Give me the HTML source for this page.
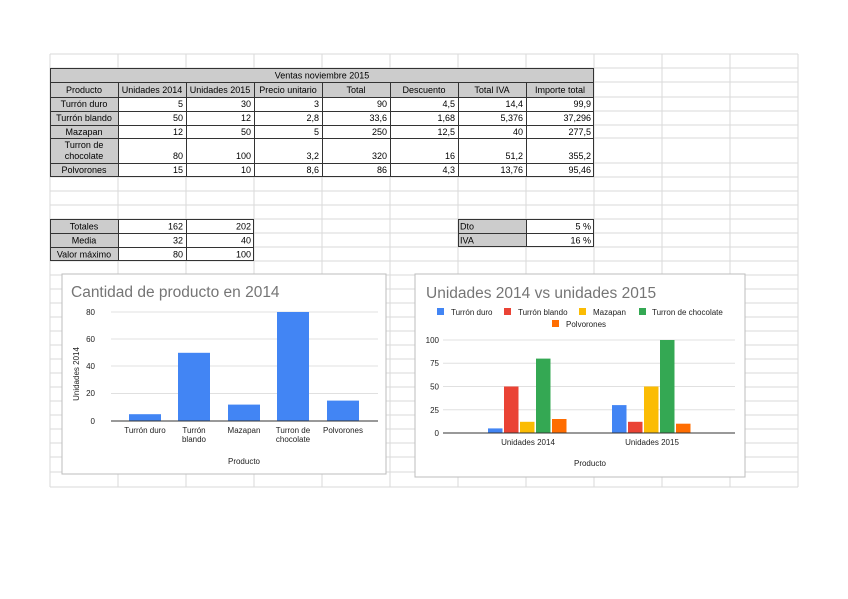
<!DOCTYPE html>
<html><head><meta charset="utf-8"><style>
html,body{margin:0;padding:0;background:#fff;}
svg{display:block;font-family:"Liberation Sans",Arial,sans-serif;}
.c{font-size:9px;fill:#000;}
</style></head><body>
<svg width="848" height="599" viewBox="0 0 848 599" xmlns="http://www.w3.org/2000/svg">
<!-- grid -->
<g stroke="#dadada" stroke-width="1">
<line x1="50" y1="54" x2="798" y2="54"/><line x1="50" y1="68" x2="798" y2="68"/><line x1="50" y1="82" x2="798" y2="82"/>
<line x1="50" y1="97" x2="798" y2="97"/><line x1="50" y1="111" x2="798" y2="111"/><line x1="50" y1="125" x2="798" y2="125"/>
<line x1="50" y1="138" x2="798" y2="138"/><line x1="50" y1="163" x2="798" y2="163"/><line x1="50" y1="177" x2="798" y2="177"/>
<line x1="50" y1="191" x2="798" y2="191"/><line x1="50" y1="205" x2="798" y2="205"/><line x1="50" y1="219" x2="798" y2="219"/>
<line x1="50" y1="233" x2="798" y2="233"/><line x1="50" y1="247" x2="798" y2="247"/><line x1="50" y1="261" x2="798" y2="261"/>
<line x1="50" y1="275" x2="798" y2="275"/><line x1="50" y1="289" x2="798" y2="289"/><line x1="50" y1="303" x2="798" y2="303"/>
<line x1="50" y1="317" x2="798" y2="317"/><line x1="50" y1="331" x2="798" y2="331"/><line x1="50" y1="345" x2="798" y2="345"/>
<line x1="50" y1="359" x2="798" y2="359"/><line x1="50" y1="373" x2="798" y2="373"/><line x1="50" y1="387" x2="798" y2="387"/>
<line x1="50" y1="401" x2="798" y2="401"/><line x1="50" y1="415" x2="798" y2="415"/><line x1="50" y1="429" x2="798" y2="429"/>
<line x1="50" y1="443" x2="798" y2="443"/><line x1="50" y1="457" x2="798" y2="457"/><line x1="50" y1="472" x2="798" y2="472"/>
<line x1="50" y1="487" x2="798" y2="487"/>
<line x1="50" y1="54" x2="50" y2="487"/><line x1="118" y1="54" x2="118" y2="487"/><line x1="186" y1="54" x2="186" y2="487"/>
<line x1="254" y1="54" x2="254" y2="487"/><line x1="322" y1="54" x2="322" y2="487"/><line x1="390" y1="54" x2="390" y2="487"/>
<line x1="458" y1="54" x2="458" y2="487"/><line x1="526" y1="54" x2="526" y2="487"/><line x1="594" y1="54" x2="594" y2="487"/>
<line x1="662" y1="54" x2="662" y2="487"/><line x1="730" y1="54" x2="730" y2="487"/><line x1="798" y1="54" x2="798" y2="487"/>
</g>
<!-- main table -->
<rect x="50" y="68" width="544" height="109" fill="#fff"/>
<rect x="50" y="68" width="544" height="29" fill="#cccccc"/>
<rect x="50" y="97" width="68" height="80" fill="#cccccc"/>
<g stroke="#333" stroke-width="1" fill="none">
<rect x="50.5" y="68.5" width="543" height="108"/>
<line x1="50" y1="82.5" x2="594" y2="82.5"/><line x1="50" y1="97.5" x2="594" y2="97.5"/><line x1="50" y1="111.5" x2="594" y2="111.5"/>
<line x1="50" y1="125.5" x2="594" y2="125.5"/><line x1="50" y1="138.5" x2="594" y2="138.5"/><line x1="50" y1="163.5" x2="594" y2="163.5"/>
<line x1="118.5" y1="82" x2="118.5" y2="177"/><line x1="186.5" y1="82" x2="186.5" y2="177"/><line x1="254.5" y1="82" x2="254.5" y2="177"/>
<line x1="322.5" y1="82" x2="322.5" y2="177"/><line x1="390.5" y1="82" x2="390.5" y2="177"/><line x1="458.5" y1="82" x2="458.5" y2="177"/>
<line x1="526.5" y1="82" x2="526.5" y2="177"/>
</g>
<g class="c" font-size="9">
<text x="322" y="78.5" text-anchor="middle" font-size="9">Ventas noviembre 2015</text>
<g text-anchor="middle" font-size="9">
<text x="84" y="93">Producto</text><text x="152" y="93">Unidades 2014</text><text x="220" y="93">Unidades 2015</text>
<text x="288" y="93">Precio unitario</text><text x="356" y="93">Total</text><text x="424" y="93">Descuento</text>
<text x="492" y="93">Total IVA</text><text x="560" y="93">Importe total</text>
<text x="84" y="107">Turrón duro</text><text x="84" y="121">Turrón blando</text><text x="84" y="135">Mazapan</text>
<text x="84" y="148">Turron de</text><text x="84" y="159">chocolate</text><text x="84" y="173">Polvorones</text>
</g>
<g text-anchor="end" font-size="9">
<text x="183" y="107">5</text><text x="251" y="107">30</text><text x="319" y="107">3</text><text x="387" y="107">90</text><text x="455" y="107">4,5</text><text x="523" y="107">14,4</text><text x="591" y="107">99,9</text>
<text x="183" y="121">50</text><text x="251" y="121">12</text><text x="319" y="121">2,8</text><text x="387" y="121">33,6</text><text x="455" y="121">1,68</text><text x="523" y="121">5,376</text><text x="591" y="121">37,296</text>
<text x="183" y="135">12</text><text x="251" y="135">50</text><text x="319" y="135">5</text><text x="387" y="135">250</text><text x="455" y="135">12,5</text><text x="523" y="135">40</text><text x="591" y="135">277,5</text>
<text x="183" y="159">80</text><text x="251" y="159">100</text><text x="319" y="159">3,2</text><text x="387" y="159">320</text><text x="455" y="159">16</text><text x="523" y="159">51,2</text><text x="591" y="159">355,2</text>
<text x="183" y="173">15</text><text x="251" y="173">10</text><text x="319" y="173">8,6</text><text x="387" y="173">86</text><text x="455" y="173">4,3</text><text x="523" y="173">13,76</text><text x="591" y="173">95,46</text>
</g>
</g>
<!-- totals table -->
<rect x="50" y="219" width="68" height="42" fill="#cccccc"/>
<rect x="118" y="219" width="136" height="42" fill="#fff"/>
<g stroke="#333" fill="none">
<rect x="50.5" y="219.5" width="203" height="41"/>
<line x1="50" y1="233.5" x2="254" y2="233.5"/><line x1="50" y1="247.5" x2="254" y2="247.5"/>
<line x1="118.5" y1="219" x2="118.5" y2="261"/><line x1="186.5" y1="219" x2="186.5" y2="261"/>
</g>
<g font-size="9">
<g text-anchor="middle"><text x="84" y="229.5">Totales</text><text x="84" y="243.5">Media</text><text x="84" y="257.5">Valor máximo</text></g>
<g text-anchor="end"><text x="183" y="229.5">162</text><text x="251" y="229.5">202</text><text x="183" y="243.5">32</text><text x="251" y="243.5">40</text><text x="183" y="257.5">80</text><text x="251" y="257.5">100</text></g>
</g>
<!-- dto table -->
<rect x="458" y="219" width="68" height="28" fill="#cccccc"/>
<rect x="526" y="219" width="68" height="28" fill="#fff"/>
<g stroke="#333" fill="none"><rect x="458.5" y="219.5" width="135" height="27"/><line x1="458" y1="233.5" x2="594" y2="233.5"/><line x1="526.5" y1="219" x2="526.5" y2="247"/></g>
<g font-size="9"><text x="460" y="229.5">Dto</text><text x="460" y="243.5">IVA</text>
<g text-anchor="end"><text x="591" y="229.5">5 %</text><text x="591" y="243.5">16 %</text></g></g>

<!-- chart 1 -->
<rect x="62" y="274" width="324" height="200" fill="#fff" stroke="#bdbdbd"/>
<text x="71" y="297" font-size="15.5" fill="#757575">Cantidad de producto en 2014</text>
<g stroke="#e0e0e0"><line x1="111" y1="312" x2="378" y2="312"/><line x1="111" y1="339" x2="378" y2="339"/><line x1="111" y1="366" x2="378" y2="366"/><line x1="111" y1="393.5" x2="378" y2="393.5"/></g>
<g fill="#4285f4">
<rect x="129" y="414.2" width="32" height="6.8"/>
<rect x="178" y="352.8" width="32" height="68.2"/>
<rect x="228" y="404.6" width="32" height="16.4"/>
<rect x="277" y="312" width="32" height="109"/>
<rect x="327" y="400.6" width="32" height="20.4"/>
</g>
<line x1="111" y1="421" x2="378" y2="421" stroke="#333"/>
<g font-size="8" text-anchor="end" fill="#222"><text x="95" y="315">80</text><text x="95" y="342">60</text><text x="95" y="369">40</text><text x="95" y="396">20</text><text x="95" y="424">0</text></g>
<text transform="translate(79,374) rotate(-90)" font-size="8" text-anchor="middle" fill="#222">Unidades 2014</text>
<g font-size="8" text-anchor="middle" fill="#222">
<text x="145" y="433">Turrón duro</text><text x="194" y="433">Turrón</text><text x="194" y="442">blando</text>
<text x="244" y="433">Mazapan</text><text x="293" y="433">Turron de</text><text x="293" y="442">chocolate</text><text x="343" y="433">Polvorones</text>
<text x="244" y="464">Producto</text></g>

<!-- chart 2 -->
<rect x="415" y="274" width="330" height="203" fill="#fff" stroke="#bdbdbd"/>
<text x="426" y="298" font-size="15.5" fill="#757575">Unidades 2014 vs unidades 2015</text>
<g font-size="8" fill="#222">
<rect x="437" y="308" width="7" height="7" fill="#4285f4"/><text x="451" y="315">Turrón duro</text>
<rect x="504" y="308" width="7" height="7" fill="#ea4335"/><text x="518" y="315">Turrón blando</text>
<rect x="579" y="308" width="7" height="7" fill="#fbbc04"/><text x="593" y="315">Mazapan</text>
<rect x="639" y="308" width="7" height="7" fill="#34a853"/><text x="652" y="315">Turron de chocolate</text>
<rect x="552" y="320" width="7" height="7" fill="#ff6d01"/><text x="566" y="327">Polvorones</text>
</g>
<g stroke="#e0e0e0"><line x1="443" y1="340" x2="735" y2="340"/><line x1="443" y1="363.3" x2="735" y2="363.3"/><line x1="443" y1="386.5" x2="735" y2="386.5"/><line x1="443" y1="409.8" x2="735" y2="409.8"/></g>
<g>
<rect x="488" y="428.4" width="14.5" height="4.6" fill="#4285f4"/>
<rect x="504" y="386.5" width="14.5" height="46.5" fill="#ea4335"/>
<rect x="520" y="421.8" width="14.5" height="11.2" fill="#fbbc04"/>
<rect x="536" y="358.6" width="14.5" height="74.4" fill="#34a853"/>
<rect x="552" y="419" width="14.5" height="14" fill="#ff6d01"/>
<rect x="612" y="405.1" width="14.5" height="27.9" fill="#4285f4"/>
<rect x="628" y="421.8" width="14.5" height="11.2" fill="#ea4335"/>
<rect x="644" y="386.5" width="14.5" height="46.5" fill="#fbbc04"/>
<rect x="660" y="340" width="14.5" height="93" fill="#34a853"/>
<rect x="676" y="423.7" width="14.5" height="9.3" fill="#ff6d01"/>
</g>
<line x1="443" y1="433" x2="735" y2="433" stroke="#333"/>
<g font-size="8" text-anchor="end" fill="#222"><text x="439" y="343">100</text><text x="439" y="366">75</text><text x="439" y="389.5">50</text><text x="439" y="413">25</text><text x="439" y="436">0</text></g>
<g font-size="8" text-anchor="middle" fill="#222"><text x="528" y="445">Unidades 2014</text><text x="652" y="445">Unidades 2015</text><text x="590" y="466">Producto</text></g>
</svg>
</body></html>
